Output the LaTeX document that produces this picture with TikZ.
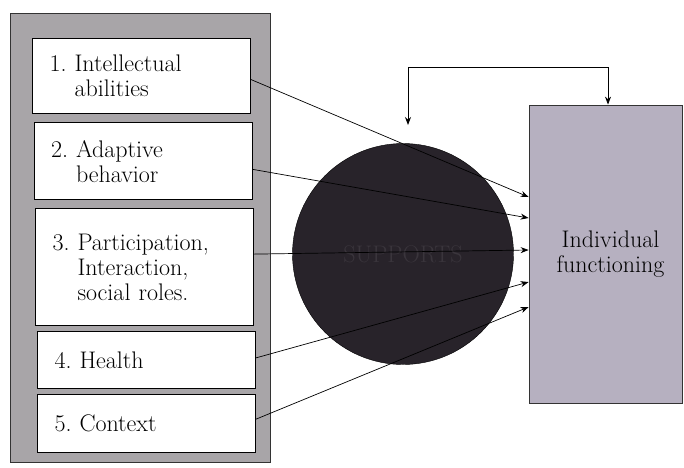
\documentclass[tikz,border=0pt]{standalone}
\usepackage{tikz}
\usetikzlibrary{arrows.meta,positioning,calc}
\definecolor{panelgray}{RGB}{168,165,168}
\definecolor{supportdark}{RGB}{40,35,42}
\definecolor{supporttext}{RGB}{58,53,60}
\definecolor{funclilac}{RGB}{182,176,192}
\newcommand{\itemfont}{\fontsize{24}{25}\selectfont}
\tikzset{
  panelbox/.style={draw=black!80, fill=panelgray, line width=1pt,
    minimum width=260pt, minimum height=449pt},
  itembox/.style={draw, fill=white, line width=0.8pt,
    minimum width=218pt, inner xsep=17pt, inner ysep=0pt,
    text width=184pt, align=left, font=\itemfont},
  supportcircle/.style={circle, draw=black, fill=supportdark,
    minimum size=221pt, font=\itemfont, text=supporttext},
  funcbox/.style={draw=black!80, fill=funclilac, line width=0.8pt,
    minimum width=153pt, minimum height=298pt,
    align=center, font=\itemfont},
  arr/.style={-{Stealth[length=8pt, width=6pt]}, line width=0.7pt},
  dblarr/.style={{Stealth[length=8pt, width=6pt]}-{Stealth[length=8pt, width=6pt]},
    line width=0.8pt},
}

\begin{document}
\begin{tikzpicture}[x=1pt, y=-1pt]
  \useasboundingbox (0,0) rectangle (684,467);

  % Left panel with the five dimensions
  \node[panelbox] (panel) at (140,238) {};
  \node[itembox, minimum height=75pt] (intellect) at (141.5,75.5)
    {1.~Intellectual\\\phantom{1.~}abilities};
  \node[itembox, minimum height=77pt, below=9pt of intellect, xshift=1.5pt] (adaptive)
    {2.~Adaptive\\\phantom{2.~}behavior};
  \node[itembox, minimum height=117pt, below=8pt of adaptive, xshift=1.5pt] (participation)
    {3.~Participation,\\\phantom{3.~}Interaction,\\\phantom{3.~}social roles.};
  \node[itembox, minimum height=57pt, below=5pt of participation, xshift=2pt] (health)
    {4.~Health};
  \node[itembox, minimum height=58pt, below=5pt of health] (context)
    {5.~Context};

  % Supports and functioning
  \node[supportcircle] (supports) at (403,254) {SUPPORTS};
  \node[funcbox] (functioning) at (605.5,254) {\hspace*{10pt}Individual\\\hspace*{10pt}functioning};

  % Arrows
  \draw[arr] ([yshift=-4pt]intellect.east) -- ([yshift=57pt]functioning.west);
  \draw[arr] ([yshift=-8pt]adaptive.east) -- ([yshift=36pt]functioning.west);
  \draw[arr] ([yshift=13pt]participation.east) -- ([yshift=4pt]functioning.west);
  \draw[arr] ([yshift=2pt]health.east) -- ([yshift=-28pt]functioning.west);
  \draw[arr] ([yshift=4pt]context.east) -- ([yshift=-53pt]functioning.west);

  % Feedback loop
  \coordinate (fbtip) at (408,125);
  \coordinate (fbtop) at (408,67);
  \draw[dblarr] (fbtip) -- (fbtop) -| ([xshift=2.5pt]functioning.north);
\end{tikzpicture}
\end{document}
